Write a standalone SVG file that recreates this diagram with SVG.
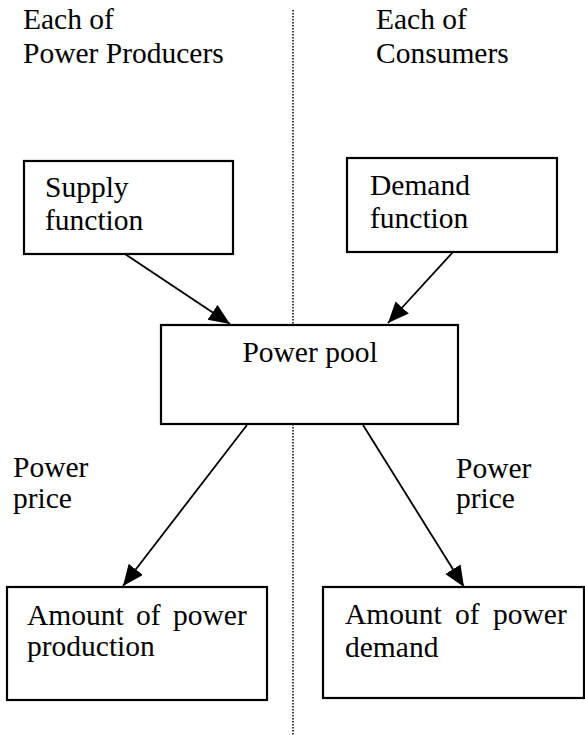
<svg xmlns="http://www.w3.org/2000/svg" width="585" height="735" viewBox="0 0 585 735">
  <style>
    .t { font-family: "Liberation Serif", "Times New Roman", serif; font-size: 29.5px; fill: #000; }
    .box { fill: #fff; stroke: #000; stroke-width: 2.2; }
    .arrow { stroke: #000; stroke-width: 1.8; fill: none; marker-end: url(#head); }
    .divider { stroke: #000; stroke-width: 1.5; stroke-dasharray: 1.5 1.5; }
  </style>
  <defs>
    <marker id="head" markerUnits="userSpaceOnUse" markerWidth="24" markerHeight="20" refX="21" refY="9" orient="auto">
      <path d="M0,0 L21,9 L0,18 Z" fill="#000"/>
    </marker>
  </defs>

  <rect width="585" height="735" fill="#fff"/>

  <!-- dotted separator between producers and consumers -->
  <line class="divider" x1="293" y1="10" x2="293" y2="735"/>

  <!-- column headings -->
  <g id="heading-producers">
    <text class="t" x="23" y="29">Each of</text>
    <text class="t" x="23" y="63">Power Producers</text>
  </g>
  <g id="heading-consumers">
    <text class="t" x="376" y="29">Each of</text>
    <text class="t" x="376" y="63">Consumers</text>
  </g>

  <g id="connectors">
    <line class="arrow" x1="125" y1="254" x2="230" y2="324"/>
    <line class="arrow" x1="453" y1="252" x2="388" y2="323"/>
    <line class="arrow" x1="247" y1="425" x2="123" y2="586"/>
    <line class="arrow" x1="363" y1="425" x2="464" y2="587"/>
  </g>

  <g id="supply-function">
    <rect class="box" x="24" y="161" width="209" height="93"/>
    <text class="t" x="45" y="197">Supply</text>
    <text class="t" x="45" y="230">function</text>
  </g>

  <g id="demand-function">
    <rect class="box" x="347" y="158" width="210" height="94"/>
    <text class="t" x="370" y="195">Demand</text>
    <text class="t" x="370" y="228">function</text>
  </g>

  <g id="power-pool">
    <rect class="box" x="161" y="325" width="297" height="99"/>
    <text class="t" x="310" y="362" text-anchor="middle">Power pool</text>
  </g>

  <g id="label-price-left">
    <text class="t" x="13" y="477">Power</text>
    <text class="t" x="13" y="508">price</text>
  </g>
  <g id="label-price-right">
    <text class="t" x="456" y="478">Power</text>
    <text class="t" x="456" y="508">price</text>
  </g>

  <g id="power-production">
    <rect class="box" x="7" y="587" width="260" height="113"/>
    <text class="t" y="625"><tspan x="27">Amount</tspan><tspan x="136">of</tspan><tspan x="173">power</tspan></text>
    <text class="t" x="27" y="656">production</text>
  </g>

  <g id="power-demand">
    <rect class="box" x="323" y="587" width="261" height="111"/>
    <text class="t" y="624"><tspan x="345">Amount</tspan><tspan x="455">of</tspan><tspan x="493">power</tspan></text>
    <text class="t" x="345" y="657">demand</text>
  </g>
</svg>
